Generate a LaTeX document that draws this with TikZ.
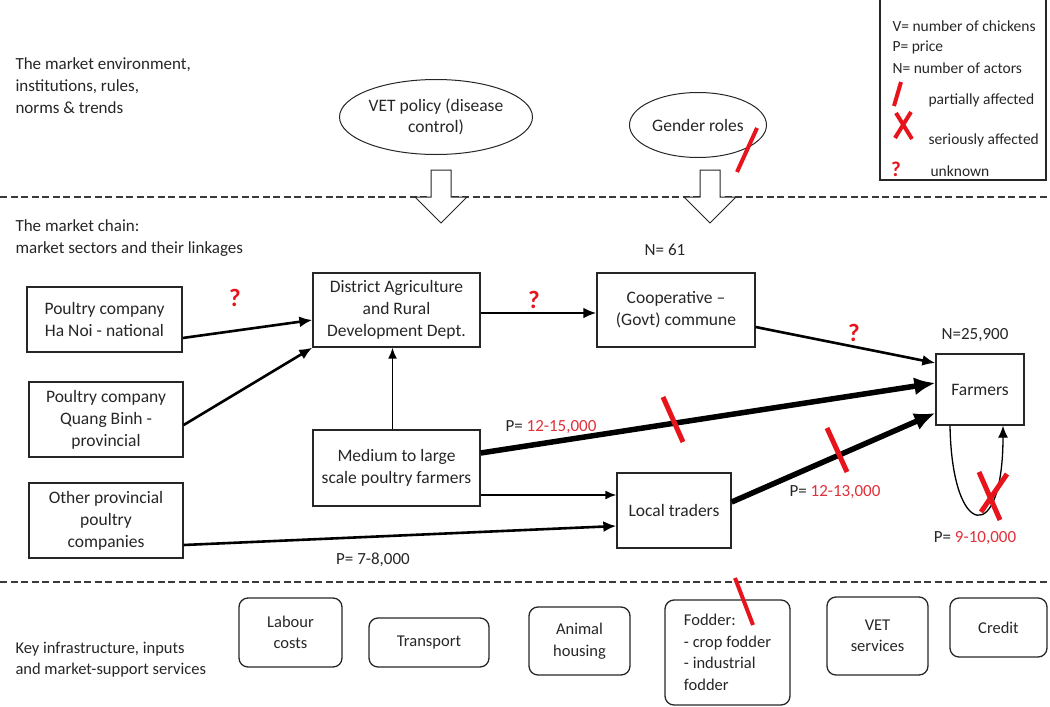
\documentclass[tikz,border=0pt]{standalone}
\usepackage{fontspec}
\setmainfont{Carlito}
\usetikzlibrary{arrows.meta,calc,shapes.geometric}
\definecolor{InkGrey}{HTML}{262626}
\definecolor{MarkRed}{HTML}{E8141C}
\definecolor{PriceRed}{HTML}{E0303A}
\definecolor{RuleGrey}{HTML}{3A3A3A}
\tikzset{
  chainbox/.style={draw=InkGrey,line width=1.3pt,align=center,inner sep=1pt,text=InkGrey,font=\fontsize{17.5}{22}\selectfont},
  inputbox/.style={draw=InkGrey,line width=1.3pt,rounded corners=9pt,align=center,inner sep=1pt,text=InkGrey,font=\fontsize{16.5}{21.5}\selectfont},
  policy/.style={ellipse,draw=InkGrey,line width=1pt,align=center,inner sep=0pt,text=InkGrey,font=\fontsize{17.5}{21}\selectfont},
  linkarrow/.style={draw=black,line width=2.6pt,-{Latex[length=13pt,width=11pt]}},
  thinlink/.style={draw=black,line width=1.7pt,-{Latex[length=11pt,width=9pt]}},
  heavylink/.style={draw=black,line width=5.5pt,-{Latex[length=21pt,width=18pt]}},
  sector/.style={anchor=west,text=InkGrey,align=left,font=\fontsize{17}{22}\selectfont},
  figlabel/.style={text=InkGrey,font=\fontsize{17}{20}\selectfont},
  keytext/.style={anchor=west,text=InkGrey,font=\fontsize{15.5}{18}\selectfont},
  qmark/.style={text=MarkRed,font=\fontsize{25}{25}\selectfont\bfseries},
  affected/.style={draw=MarkRed,line width=4pt},
  divider/.style={draw=RuleGrey,line width=1.1pt,dash pattern=on 7pt off 3.5pt},
  blockarrow/.style={draw=InkGrey,fill=white,line width=1pt,line join=miter},
}
\begin{document}
\begin{tikzpicture}[x=1pt,y=-1pt]
      \useasboundingbox (0,0) rectangle (1050,707);
      \draw[divider] (0,197) -- (1050,197);
      \draw[divider] (0,582) -- (1050,582);
      \node[sector] (envtext) at (12,86) {The market environment,\\institutions, rules,\\norms \& trends};
      \node[sector] (chaintext) at (12,238) {The market chain:\\market sectors and their linkages};
      \node[sector,font=\fontsize{16.5}{21}\selectfont] (inputtext) at (12,660) {Key infrastructure, inputs\\and market-support services};
      \draw[line width=1.2pt,draw=InkGrey] (880,0) -- (880,180) -- (1046,180) -- (1046,0);
      \node[keytext] (keyv) at (889,26) {V= number of chickens};
      \node[keytext] (keyp) at (889,47) {P= price};
      \node[keytext] (keyn) at (889,68) {N= number of actors};
      \node[keytext] (keypart) at (925,100) {partially affected};
      \node[keytext] (keyser) at (925,140) {seriously affected};
      \node[keytext] (keyunk) at (927,171) {unknown};
      \node[qmark,font=\fontsize{21}{21}\selectfont\bfseries] (keyq) at (896,169) {?};
      \draw[affected] (901,82) -- (894,106);
      \draw[affected] (896,113) -- (912,139);
      \draw[affected] (911,112) -- (895,138);
      \node[policy,minimum width=193,minimum height=75] (vetpolicy) at (436,117) {VET policy (disease\\control)};
      \node[policy,minimum width=137,minimum height=65] (gender) at (698,125) {Gender roles};
      \draw[affected] (757,128) -- (737,172);
      \foreach \bx in {441,710}
        \draw[blockarrow] (\bx-10,170) -- (\bx+10,170) -- (\bx+10,197) -- (\bx+26,197) -- (\bx,223) -- (\bx-26,197) -- (\bx-10,197) -- cycle;
      \node[chainbox,minimum width=155,minimum height=65] (hanoi) at (104.5,319.5) {Poultry company\\Ha Noi - national};
      \node[chainbox,minimum width=154,minimum height=75] (quangbinh) at (106,419.5) {Poultry company\\Quang Binh -\\provincial};
      \node[chainbox,minimum width=154,minimum height=75] (otherprov) at (106,520.5) {Other provincial\\poultry\\companies};
      \node[chainbox,minimum width=167,minimum height=74] (district) at (396.5,310) {District Agriculture\\and Rural\\Development Dept.};
      \node[chainbox,minimum width=167,minimum height=76] (medium) at (396.5,468) {Medium to large\\scale poultry farmers};
      \node[chainbox,minimum width=158,minimum height=74] (coop) at (676,310) {Cooperative --\\(Govt) commune};
      \node[chainbox,minimum width=114,minimum height=75] (traders) at (674,510.5) {Local traders};
      \node[chainbox,minimum width=88,minimum height=71] (farmers) at (980,389.5) {Farmers};
      \draw[linkarrow] ($(hanoi.east)+(0,18.5)$) -- ($(district.west)+(0,10)$);
      \draw[linkarrow] ($(quangbinh.east)+(0,5.5)$) -- (district.south west);
      \draw[linkarrow] ($(district.east)+(0,3)$) -- ($(coop.west)+(0,3)$);
      \draw[linkarrow] ($(coop.east)+(0,17)$) -- ($(farmers.west)+(0,-26.5)$);
      \draw[thinlink] ($(medium.north)+(-4,0)$) -- ($(district.south)+(-4,0)$);
      \draw[heavylink] ($(medium.east)+(0,-15)$) -- ($(farmers.west)+(0,-6.5)$);
      \draw[thinlink] ($(medium.east)+(0,27)$) -- ($(traders.west)+(0,-15.5)$);
      \draw[linkarrow] ($(otherprov.east)+(0,24.5)$) -- ($(traders.west)+(0,15.5)$);
      \draw[heavylink] ($(traders.east)+(0,-8.5)$) -- ($(farmers.west)+(0,23.5)$);
      \draw[line width=1.3pt,-{Latex[length=12pt,width=10pt]}] ($(farmers.south)+(-30,0)$) .. controls +(2,115) and +(0,120) .. ($(farmers.south)+(23,0)$);
      \node[qmark] (qhanoi) at (235,298) {?};
      \node[qmark] (qdistrict) at (534,300) {?};
      \node[qmark] (qcoop) at (854,333) {?};
      \node[figlabel] (ncoop) at (665,250) {N= 61};
      \node[figlabel] (nfarmers) at (975,335) {N=25,900};
      \node[figlabel] (pmedium) at (551,427) {P= \textcolor{PriceRed}{12-15,000}};
      \node[figlabel] (ptraders) at (835,492) {P= \textcolor{PriceRed}{12-13,000}};
      \node[figlabel] (pother) at (373,560) {P= 7-8,000};
      \node[figlabel] (pfarmers) at (975,538) {P= \textcolor{PriceRed}{9-10,000}};
      \draw[affected,line width=5pt] (663,397) -- (683,442);
      \draw[affected,line width=5pt] (827,428) -- (847,472);
      \draw[affected,line width=5pt] (979,472) -- (1000,520);
      \draw[affected,line width=5pt] (1007,474) -- (981,512);
      \node[inputbox,minimum width=103,minimum height=69] (labour) at (290.5,632.5) {Labour\\costs};
      \node[inputbox,minimum width=120,minimum height=49] (transport) at (429,642.5) {Transport};
      \node[inputbox,minimum width=101,minimum height=68] (housing) at (579.5,641) {Animal\\housing};
      \node[inputbox,minimum width=125,minimum height=105,align=left] (fodder) at (727.5,652.5) {Fodder:\\- crop fodder\\- industrial\\fodder};
      \node[inputbox,minimum width=101,minimum height=78] (vetserv) at (877.5,636) {VET\\services};
      \node[inputbox,minimum width=97,minimum height=59] (credit) at (998.5,627.5) {Credit};
      \draw[affected] (735,578) -- (753,625);
    \end{tikzpicture}
\end{document}
